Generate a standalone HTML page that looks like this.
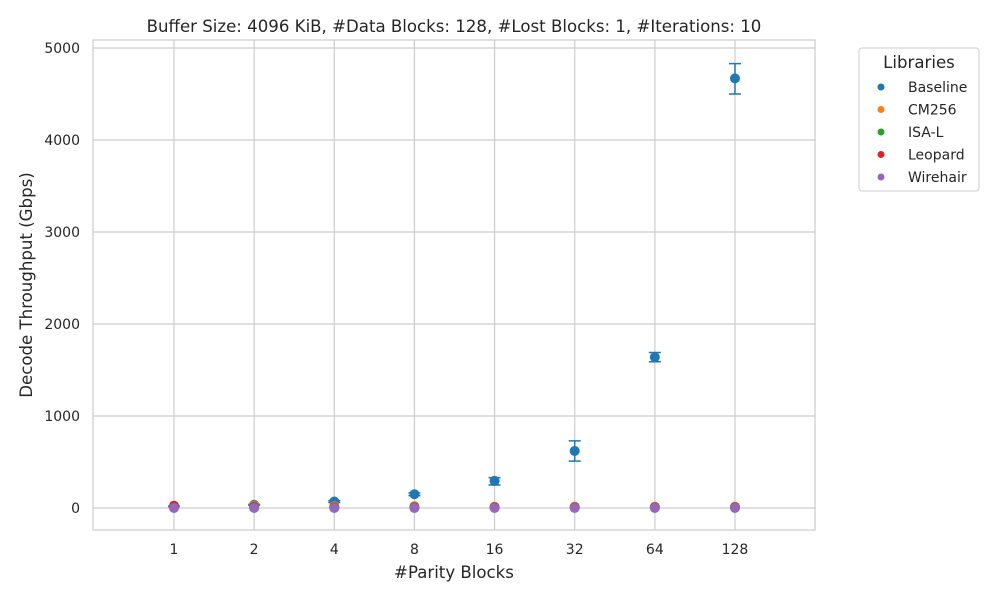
<!DOCTYPE html>
<html><head><meta charset="utf-8"><style>body{margin:0;background:#fff}svg{font-family:"DejaVu Sans","Liberation Sans",sans-serif}</style></head>
<body>
<svg id="chart" width="1000" height="600">
<rect x="93" y="40" width="722" height="490" fill="#fff" stroke="#ccc" stroke-width="1.2"/>
<g id="grid"></g><g id="marks"></g>
<text x="454" y="32" text-anchor="middle" font-size="16.6" fill="#262626">Buffer Size: 4096 KiB, #Data Blocks: 128, #Lost Blocks: 1, #Iterations: 10</text>
<text x="454" y="578" text-anchor="middle" font-size="16.6" fill="#262626">#Parity Blocks</text>
<text transform="translate(32,285) rotate(-90)" text-anchor="middle" font-size="16.6" fill="#262626">Decode Throughput (Gbps)</text>
<g>
<rect x="859" y="48" width="120" height="143" rx="3" fill="#fff" stroke="#ccc"/>
<text x="919" y="68" text-anchor="middle" font-size="16.6" fill="#262626">Libraries</text>
<g id="legend-items"></g>
</g>
</svg>
<script>
const categories=["1","2","4","8","16","32","64","128"];
const yTicks=[0,1000,2000,3000,4000,5000];
const seriesNames=["Baseline","CM256","ISA-L","Leopard","Wirehair"];
const colors=["#1f77b4","#ff7f0e","#2ca02c","#d62728","#9467bd"];
const baseline=[18,35,70,150,295,620,1640,4670];
const baselineLo=[15,30,60,135,250,510,1590,4500];
const baselineHi=[21,40,80,165,330,730,1690,4830];
const cm256=[15,25,20,20,15,15,15,15];
const isal=[10,15,10,10,8,8,8,8];
const leopard=[25,10,5,5,5,5,5,5];
const wirehair=[0,0,0,0,0,0,0,0];
const allSeries=[baseline,cm256,isal,leopard,wirehair];
const NS="http://www.w3.org/2000/svg";
const xs=i=>174+i*80.14, ys=v=>508-v*0.092;
function mk(t,a,p){const e=document.createElementNS(NS,t);for(const k in a)e.setAttribute(k,a[k]);p.appendChild(e);return e;}
const g=document.getElementById('grid'),m=document.getElementById('marks'),lg=document.getElementById('legend-items');
yTicks.forEach(v=>{const l=mk('line',{x1:93,x2:815,y1:ys(v),y2:ys(v),stroke:'#ccc','stroke-width':1.2},g);

const t=mk('text',{x:80,y:ys(v)+5,'text-anchor':'end','font-size':14,fill:'#262626'},g);t.textContent=v;
});
categories.forEach((c,i)=>{const l=mk('line',{x1:xs(i),x2:xs(i),y1:40,y2:530,stroke:'#ccc','stroke-width':1.2},g);

const t=mk('text',{x:xs(i),y:554,'text-anchor':'middle','font-size':14,fill:'#262626'},g);t.textContent=c;
});
baseline.forEach((v,i)=>{const x=xs(i);
const e=mk('path',{d:`M${x},${ys(baselineLo[i])}V${ys(baselineHi[i])}M${x-6},${ys(baselineLo[i])}H${x+6}M${x-6},${ys(baselineHi[i])}H${x+6}`,stroke:colors[0],'stroke-width':1.5,fill:'none'},m);
});
allSeries.forEach((s,k)=>{s.forEach((v,i)=>{const c=mk('circle',{cx:xs(i),cy:ys(v),r:5,fill:colors[k]},m);
});
const y=87+k*22.5;const c=mk('circle',{cx:881,cy:y,r:3.5,fill:colors[k]},lg);

const t=mk('text',{x:908,y:y+5,'font-size':14,fill:'#262626'},lg);t.textContent=seriesNames[k];
});
</script>
</body></html>
